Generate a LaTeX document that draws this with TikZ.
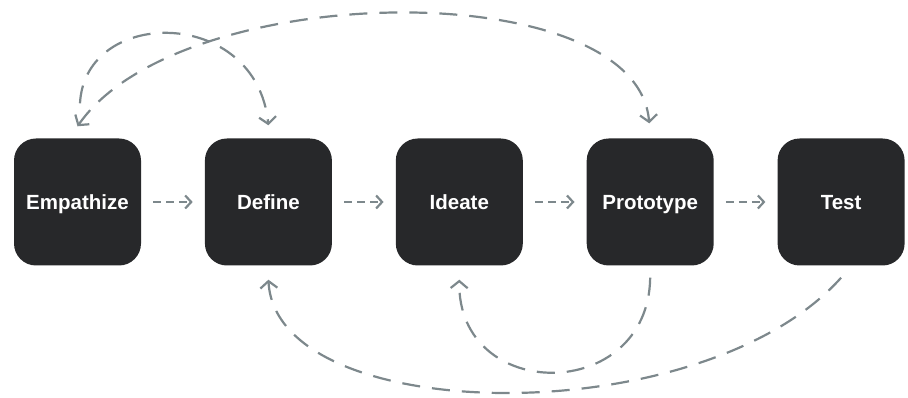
\documentclass[tikz,border=0pt]{standalone}
\usepackage{fontspec}
\setmainfont{Liberation Sans}
\usetikzlibrary{arrows.meta,positioning}
\definecolor{boxfill}{HTML}{27282A}
\definecolor{linkgray}{HTML}{7D888C}

\begin{document}
\begin{tikzpicture}[x=1pt,y=1pt,
            stage/.style={rectangle, rounded corners=22pt, fill=boxfill,
                    minimum width=127pt, minimum height=127pt, inner sep=0pt,
                    text height=14.7pt, text depth=0pt,
                    text=white, font=\fontsize{20.5}{24}\selectfont\bfseries},
            next/.style={->, draw=linkgray, line width=2.2pt,
                    dash pattern=on 8pt off 5pt, shorten >=12pt, shorten <=12pt,
                    >={Straight Barb[length=6pt,width=13pt]}},
            feedback/.style={draw=linkgray, line width=2.2pt,
                    dash pattern=on 18pt off 12pt,
                    >={Straight Barb[length=7pt,width=17pt]}},
            node distance=63.5pt]

        \useasboundingbox (0,0) rectangle (908,398);

        \node[stage] (emp) at (77.5,196) {Empathize};
        \node[stage,right=of emp] (def) {Define};
        \node[stage,right=of def] (ide) {Ideate};
        \node[stage,right=of ide] (pro) {Prototype};
        \node[stage,right=of pro] (tst) {Test};

        \draw[next] (emp) -- (def);
        \draw[next] (def) -- (ide);
        \draw[next] (ide) -- (pro);
        \draw[next] (pro) -- (tst);

        % loops over the top
        \draw[feedback,->] ([xshift=2.5pt,yshift=35pt]emp.north)
            .. controls +(5,97) and +(-12,119) .. ([yshift=13pt]def.north);
        \draw[feedback,<->] ([yshift=12pt]emp.north)
            .. controls +(103,148) and +(-12,150) .. ([xshift=-1pt,yshift=15pt]pro.north);

        % loops underneath
        \draw[feedback,->] ([yshift=-12pt]pro.south)
            .. controls +(-2,-126) and +(-2,-124) .. ([yshift=-14pt]ide.south);
        \draw[feedback,->] ([yshift=-12pt]tst.south)
            .. controls +(-139,-156) and +(8,-148) .. ([yshift=-14pt]def.south);
    \end{tikzpicture}
\end{document}
